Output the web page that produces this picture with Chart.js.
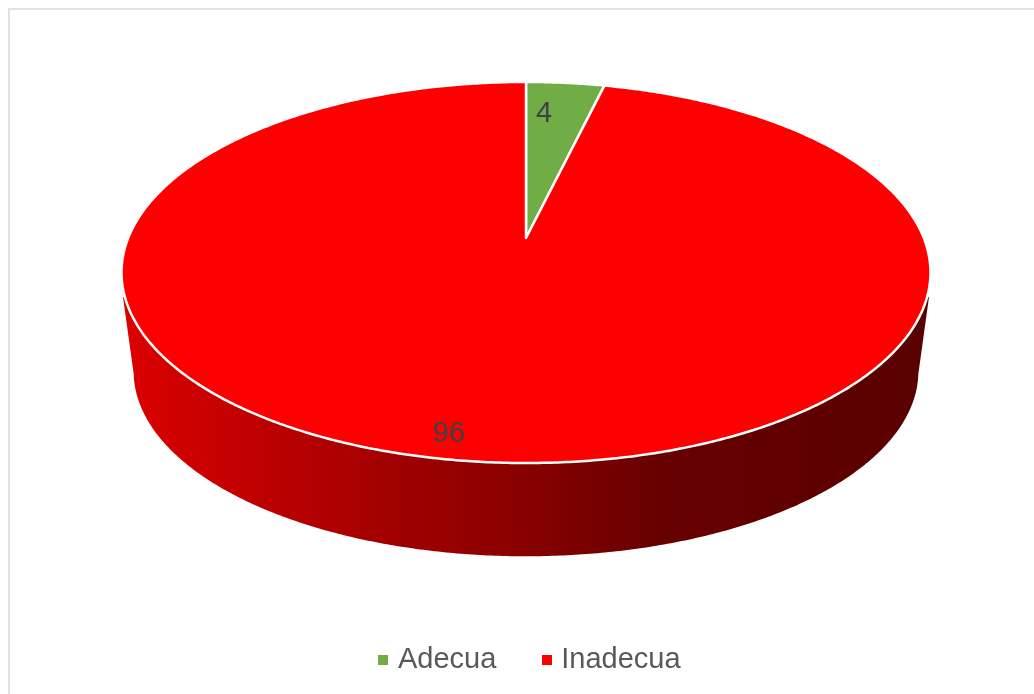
<!DOCTYPE html>
<html>
<head>
<meta charset="utf-8">
<style>
  html, body { margin: 0; padding: 0; background: #fff; overflow: hidden; }
  #wrap { position: relative; width: 1034px; height: 694px; }
  #frame { position: absolute; left: 8px; top: 8px; width: 1040px; height: 700px; border: 2px solid #e2e2e2; }
  canvas { position: absolute; left: 0; top: 0; }
</style>
<script src="https://cdn.jsdelivr.net/npm/chart.js@4/dist/chart.umd.min.js"></script>
</head>
<body>
<div id="wrap">
  <div id="frame"></div>
  <canvas id="chart" width="1034" height="694"></canvas>
</div>
<script>
const categories = ['Adecua', 'Inadecua'];
const values = [4, 96];
const colors = ['#70ad47', '#ff0000'];

// small square used as legend marker
function marker(color) {
  const c = document.createElement('canvas');
  c.width = 10;
  c.height = 10;
  const g = c.getContext('2d');
  g.fillStyle = color;
  g.fillRect(0, 0, 10, 10);
  return c;
}

// tilted circle -> page position (the pie centre sits above the middle of the ellipse)
const k = -0.181;
function rim(angle, face) {
  const t = angle + Math.PI / 2;
  const a = angle - 0.036 * Math.sin(2 * t); // slight foreshortening near the top
  const x = Math.cos(a);
  const y = Math.sin(a);
  const d = 1 + k * y;
  if (face === 'bottom') {
    return [526 + 0.97 * 397.8 * x / d, 338 + 0.97 * 184.3 * y / d];
  }
  return [526 + 397.8 * x / d, 238 + 184.3 * y / d];
}

const tiltedPie = {
  id: 'tiltedPie',
  beforeDatasetsDraw(chart) {
    const ctx = chart.ctx;
    const arcs = chart.getDatasetMeta(0).data;
    const step = Math.PI / 360;

    // side wall
    const wall = ctx.createLinearGradient(122, 0, 931, 0);
    wall.addColorStop(0, '#dc0000');
    wall.addColorStop(0.34, '#a00000');
    wall.addColorStop(0.5, '#880000');
    wall.addColorStop(0.66, '#680000');
    wall.addColorStop(1, '#580000');
    ctx.save();
    ctx.beginPath();
    ctx.moveTo(123, 297);
    const side = Math.asin(-k);
    for (let a = Math.PI - side; a >= side; a -= step) {
      const p = rim(a, 'bottom');
      ctx.lineTo(p[0], p[1]);
    }
    ctx.lineTo(929, 297);
    ctx.closePath();
    ctx.fillStyle = wall;
    ctx.fill();

    // top face, one slice per arc
    arcs.forEach((arc, i) => {
      ctx.beginPath();
      ctx.moveTo(526, 238);
      for (let a = arc.startAngle; a < arc.endAngle; a += step) {
        const p = rim(a);
        ctx.lineTo(p[0], p[1]);
      }
      const last = rim(arc.endAngle);
      ctx.lineTo(last[0], last[1]);
      ctx.closePath();
      ctx.fillStyle = colors[i];
      ctx.fill();
      ctx.lineWidth = 2.5;
      ctx.strokeStyle = '#ffffff';
      ctx.lineJoin = 'round';
      ctx.stroke();
    });

    // value labels
    const labelPos = [[544, 114], [449, 434]];
    ctx.font = '29px "Liberation Sans"';
    ctx.fillStyle = '#404040';
    ctx.textAlign = 'center';
    ctx.textBaseline = 'middle';
    values.forEach((v, i) => ctx.fillText(String(v), labelPos[i][0], labelPos[i][1]));
    ctx.restore();
    return false;
  }
};

new Chart(document.getElementById('chart'), {
  type: 'pie',
  data: {
    labels: categories,
    datasets: [{ data: values, backgroundColor: colors, borderColor: '#ffffff', borderWidth: 2 }]
  },
  options: {
    responsive: false,
    animation: false,
    layout: { padding: { left: 30, bottom: 10 } },
    plugins: {
      tooltip: { enabled: false },
      legend: {
        position: 'bottom',
        labels: {
          usePointStyle: true,
          pointStyleWidth: 0.01,
          boxHeight: 10,
          padding: 50.5,
          color: '#595959',
          font: { family: '"Liberation Sans"', size: 29 },
          generateLabels: () => categories.map((name, i) => ({
            text: name,
            fontColor: '#595959',
            pointStyle: marker(colors[i]),
            index: i
          }))
        }
      }
    }
  },
  plugins: [tiltedPie]
});
</script>
</body>
</html>
